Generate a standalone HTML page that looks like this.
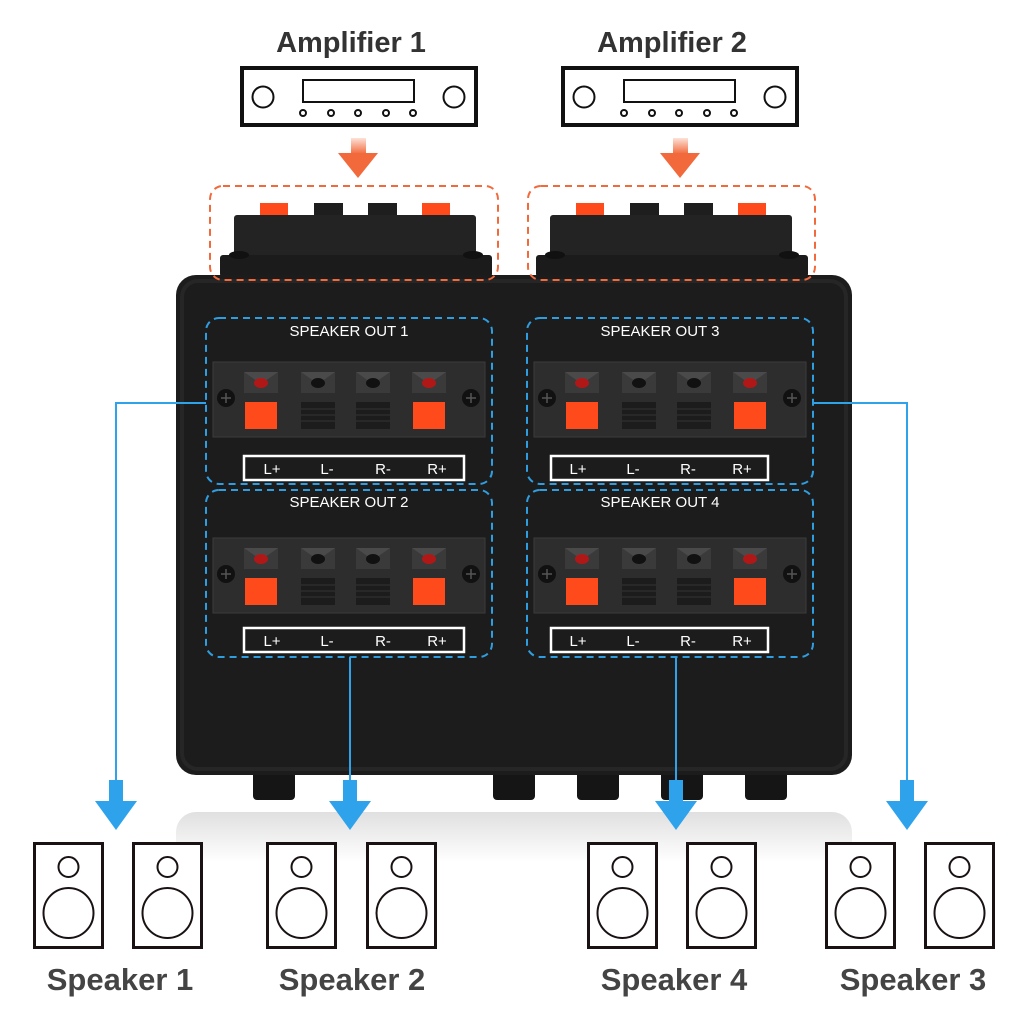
<!DOCTYPE html>
<html><head><meta charset="utf-8"><style>
html,body{margin:0;padding:0;background:#fff;}
svg{display:block;}
</style></head><body>
<svg width="1024" height="1024" viewBox="0 0 1024 1024" xmlns="http://www.w3.org/2000/svg" font-family="Liberation Sans, sans-serif">
<defs>
  <linearGradient id="refl" x1="0" y1="0" x2="0" y2="1">
    <stop offset="0" stop-color="#d8d8d8"/><stop offset="1" stop-color="#ffffff"/>
  </linearGradient>
  <linearGradient id="shaftO" x1="0" y1="0" x2="0" y2="1">
    <stop offset="0" stop-color="#f26a3c" stop-opacity="0.2"/><stop offset="1" stop-color="#f26a3c"/>
  </linearGradient>
  <g id="amp">
    <rect x="2" y="2" width="234" height="57" fill="#fff" stroke="#111" stroke-width="4"/>
    <circle cx="23" cy="31" r="10.5" fill="none" stroke="#111" stroke-width="2"/>
    <circle cx="214" cy="31" r="10.5" fill="none" stroke="#111" stroke-width="2"/>
    <rect x="63" y="14" width="111" height="22" fill="none" stroke="#111" stroke-width="2"/>
    <circle cx="63" cy="47" r="3" fill="none" stroke="#111" stroke-width="2"/>
    <circle cx="91" cy="47" r="3" fill="none" stroke="#111" stroke-width="2"/>
    <circle cx="118" cy="47" r="3" fill="none" stroke="#111" stroke-width="2"/>
    <circle cx="146" cy="47" r="3" fill="none" stroke="#111" stroke-width="2"/>
    <circle cx="173" cy="47" r="3" fill="none" stroke="#111" stroke-width="2"/>
  </g>
  <g id="oarrow">
    <rect x="-7" y="0" width="15" height="16" fill="url(#shaftO)"/>
    <polygon points="-20,15 20,15 0,40" fill="#f26a3c"/>
  </g>
  <g id="barrow">
    <rect x="-7" y="0" width="14" height="22" fill="#2ea3ec"/>
    <polygon points="-21,21 21,21 0,50" fill="#2ea3ec"/>
  </g>
  <g id="spk">
    <rect x="1.5" y="1.5" width="68" height="104" fill="#fff" stroke="#1a1212" stroke-width="3"/>
    <circle cx="35.5" cy="25" r="10" fill="none" stroke="#1a1212" stroke-width="2"/>
    <circle cx="35.5" cy="71" r="25" fill="none" stroke="#1a1212" stroke-width="2"/>
  </g>
  <g id="term">
    <rect x="-17" y="10" width="34" height="21" fill="#3a3a3a"/>
    <polygon points="-17,10 17,10 0,22" fill="#4a4a4a"/>
  </g>
  <g id="panel">
    <rect x="0" y="0" width="272" height="75" fill="#2d2d2d" stroke="#3c3c3c" stroke-width="1"/>
    <circle cx="13" cy="36" r="9" fill="#111"/>
    <circle cx="258" cy="36" r="9" fill="#111"/>
    <path d="M8 36h10M13 31v10M253 36h10M258 31v10" stroke="#555" stroke-width="1.5"/>
    <!-- terminals -->
    <g transform="translate(48,0)"><use href="#term"/><ellipse cx="0" cy="21" rx="7" ry="5" fill="#b01818"/><rect x="-16" y="40" width="32" height="27" fill="#ff4a1c"/></g>
    <g transform="translate(105,0)"><use href="#term"/><ellipse cx="0" cy="21" rx="7" ry="5" fill="#111"/><rect x="-17" y="40" width="34" height="27" fill="#1c1c1c"/><path d="M-17 47h34M-17 53h34M-17 59h34" stroke="#333"/></g>
    <g transform="translate(160,0)"><use href="#term"/><ellipse cx="0" cy="21" rx="7" ry="5" fill="#111"/><rect x="-17" y="40" width="34" height="27" fill="#1c1c1c"/><path d="M-17 47h34M-17 53h34M-17 59h34" stroke="#333"/></g>
    <g transform="translate(216,0)"><use href="#term"/><ellipse cx="0" cy="21" rx="7" ry="5" fill="#b01818"/><rect x="-16" y="40" width="32" height="27" fill="#ff4a1c"/></g>
  </g>
  <g id="topconn">
    <rect x="40" y="16" width="28" height="18" fill="#ff4a1c"/>
    <rect x="94" y="16" width="29" height="18" fill="#1e1e1e"/>
    <rect x="148" y="16" width="29" height="18" fill="#1e1e1e"/>
    <rect x="202" y="16" width="28" height="18" fill="#ff4a1c"/>
    <rect x="14" y="28" width="242" height="52" rx="3" fill="#232323"/>
    <rect x="0" y="68" width="272" height="22" rx="3" fill="#1b1b1b"/>
    <ellipse cx="19" cy="68" rx="10" ry="4" fill="#111"/>
    <ellipse cx="253" cy="68" rx="10" ry="4" fill="#111"/>
  </g>
</defs>

<!-- reflection -->
<rect x="176" y="812" width="676" height="50" rx="20" fill="url(#refl)" opacity="0.8"/>

<!-- titles -->
<text x="351" y="52" font-size="29" font-weight="bold" fill="#333" text-anchor="middle">Amplifier 1</text>
<text x="672" y="52" font-size="29" font-weight="bold" fill="#333" text-anchor="middle">Amplifier 2</text>
<use href="#amp" x="240" y="66"/>
<use href="#amp" x="561" y="66"/>
<use href="#oarrow" x="358" y="138"/>
<use href="#oarrow" x="680" y="138"/>

<!-- top connectors -->
<use href="#topconn" x="220" y="187"/>
<use href="#topconn" x="536" y="187"/>

<!-- feet -->
<g fill="#151515">
<rect x="253" y="765" width="42" height="35" rx="4"/>
<rect x="493" y="765" width="42" height="35" rx="4"/>
<rect x="577" y="765" width="42" height="35" rx="4"/>
<rect x="661" y="765" width="42" height="35" rx="4"/>
<rect x="745" y="765" width="42" height="35" rx="4"/>
</g>
<!-- main box -->
<rect x="176" y="275" width="676" height="500" rx="20" fill="#1c1c1c"/>
<rect x="182" y="281" width="664" height="488" rx="16" fill="none" stroke="#262626" stroke-width="4"/>

<!-- orange dashed -->
<rect x="210" y="186" width="288" height="94" rx="13" fill="none" stroke="#f26a3c" stroke-width="2" stroke-dasharray="7,5"/>
<rect x="528" y="186" width="287" height="94" rx="13" fill="none" stroke="#f26a3c" stroke-width="2" stroke-dasharray="7,5"/>

<!-- panels -->
<use href="#panel" x="213" y="362"/>
<use href="#panel" x="213" y="538"/>
<use href="#panel" x="534" y="362"/>
<use href="#panel" x="534" y="538"/>

<g fill="#fff" font-size="15" text-anchor="middle">
<text x="349" y="336">SPEAKER  OUT  1</text>
<text x="349" y="507">SPEAKER  OUT  2</text>
<text x="660" y="336">SPEAKER  OUT  3</text>
<text x="660" y="507">SPEAKER  OUT  4</text>
</g>
<g fill="none" stroke="#fff" stroke-width="2.5">
<rect x="244" y="456" width="220" height="24"/>
<rect x="244" y="628" width="220" height="24"/>
<rect x="551" y="456" width="217" height="24"/>
<rect x="551" y="628" width="217" height="24"/>
</g>
<g fill="#fff" font-size="15" text-anchor="middle">
<text x="272" y="474">L+</text><text x="327" y="474">L-</text><text x="383" y="474">R-</text><text x="437" y="474">R+</text>
<text x="272" y="646">L+</text><text x="327" y="646">L-</text><text x="383" y="646">R-</text><text x="437" y="646">R+</text>
<text x="578" y="474">L+</text><text x="633" y="474">L-</text><text x="688" y="474">R-</text><text x="742" y="474">R+</text>
<text x="578" y="646">L+</text><text x="633" y="646">L-</text><text x="688" y="646">R-</text><text x="742" y="646">R+</text>
</g>

<!-- blue dashed -->
<g fill="none" stroke="#2f9ee0" stroke-width="2" stroke-dasharray="7,5">
<rect x="206" y="318" width="286" height="166" rx="13"/>
<rect x="206" y="490" width="286" height="167" rx="13"/>
<rect x="527" y="318" width="286" height="166" rx="13"/>
<rect x="527" y="490" width="286" height="167" rx="13"/>
</g>

<!-- blue connector lines -->
<g fill="none" stroke="#2ea3ec" stroke-width="2">
<polyline points="206,403 116,403 116,785"/>
<polyline points="350,657 350,785"/>
<polyline points="676,657 676,785"/>
<polyline points="813,403 907,403 907,785"/>
</g>
<use href="#barrow" x="116" y="780"/>
<use href="#barrow" x="350" y="780"/>
<use href="#barrow" x="676" y="780"/>
<use href="#barrow" x="907" y="780"/>

<!-- speakers -->
<use href="#spk" x="33" y="842"/>
<use href="#spk" x="132" y="842"/>
<use href="#spk" x="266" y="842"/>
<use href="#spk" x="366" y="842"/>
<use href="#spk" x="587" y="842"/>
<use href="#spk" x="686" y="842"/>
<use href="#spk" x="825" y="842"/>
<use href="#spk" x="924" y="842"/>

<g font-size="31" font-weight="bold" fill="#444" text-anchor="middle">
<text x="120" y="990">Speaker 1</text>
<text x="352" y="990">Speaker 2</text>
<text x="674" y="990">Speaker 4</text>
<text x="913" y="990">Speaker 3</text>
</g>
</svg>
</body></html>
